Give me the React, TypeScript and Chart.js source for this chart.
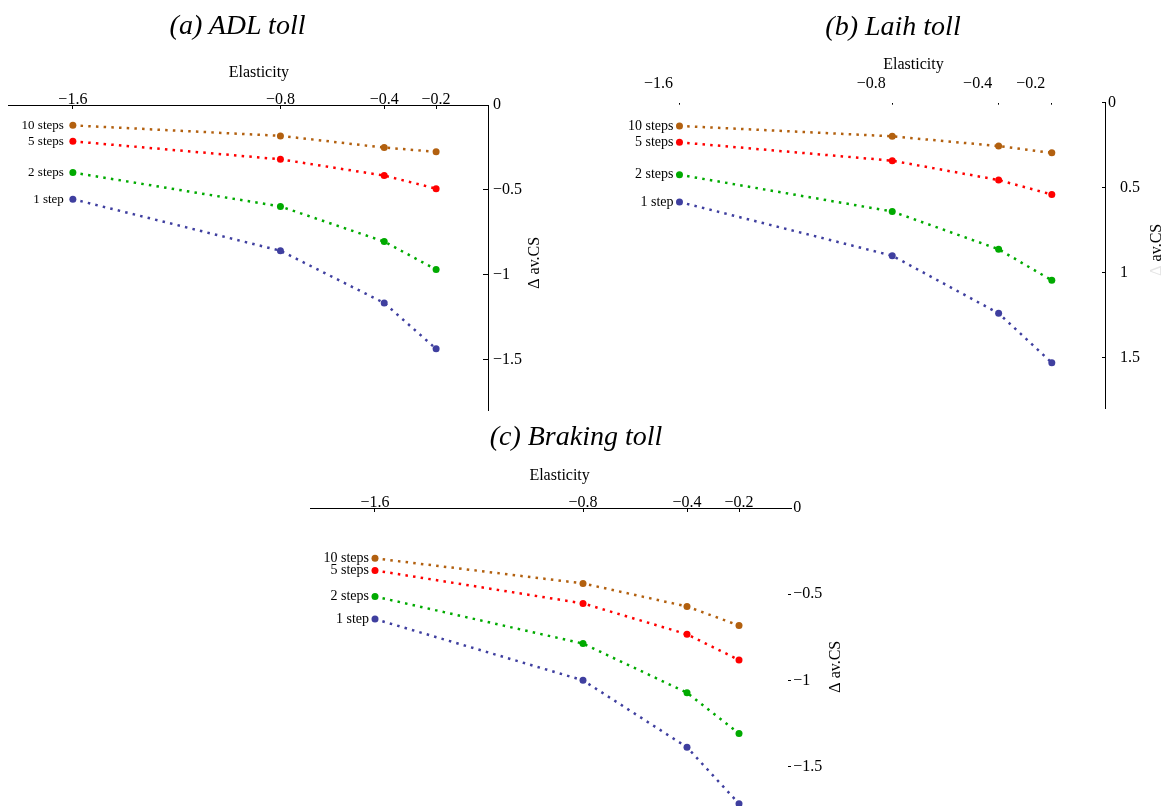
import React, { useEffect, useRef } from 'react';
import { Chart, registerables } from 'chart.js';

Chart.register(...registerables);

// ---------- data ----------
const elasticity = [-1.6, -0.8, -0.4, -0.2];
const xTickLabels = ['−1.6', '−0.8', '−0.4', '−0.2'];
const seriesNames = ['10 steps', '5 steps', '2 steps', '1 step'];
const seriesColors = ['#b2600f', '#ff0000', '#00aa00', '#3f3f9f'];

const adl10 = [-0.12, -0.182, -0.251, -0.276];
const adl5 = [-0.214, -0.32, -0.416, -0.493];
const adl2 = [-0.398, -0.598, -0.805, -0.97];
const adl1 = [-0.555, -0.859, -1.167, -1.437];

const laih10 = [0.137, 0.198, 0.255, 0.295];
const laih5 = [0.233, 0.341, 0.455, 0.54];
const laih2 = [0.424, 0.64, 0.862, 1.045];
const laih1 = [0.584, 0.9, 1.239, 1.53];

const brake10 = [-0.292, -0.437, -0.571, -0.681];
const brake5 = [-0.362, -0.553, -0.732, -0.881];
const brake2 = [-0.513, -0.786, -1.071, -1.307];
const brake1 = [-0.644, -0.999, -1.387, -1.714];

const yTicksNeg = [0, -0.5, -1, -1.5];
const yTickLabelsNeg = ['0', '−0.5', '−1', '−1.5'];
const yTicksPos = [0, 0.5, 1, 1.5];
const yTickLabelsPos = ['0', '0.5', '1', '1.5'];

const panelTitles = ['(a) ADL toll', '(b) Laih toll', '(c) Braking toll'];
const xTitle = 'Elasticity';
const yTitleDelta = 'Δ ';
const yTitleRest = 'av.CS';

// ---------- layout / style ----------
const SERIF = '"Liberation Serif", "Times New Roman", serif';

type PanelCfg = {
  series: number[][];
  yTicks: number[];
  yTickLabels: string[];
  yLabelPad: string;
  yMin: number;
  yMax: number;
  reverse: boolean;
  box: { left: number; top: number; width: number; height: number };
  padLeft: number;
  xAxisH: number;
  yAxisW: number;
  padBottom: number;
  xBorder: boolean;
  xTickLen: number;
  xTickPad: number;
  xLabelOffset: number;
  yBorder: boolean;
  yTickLen: number;
  yTickPad: number;
  xTitleAt: number;
  xTitleGap: number;
  yTitleAt: number;
  yTitleGap: number;
  deltaColor: string;
  labelFont: number;
  labelGap: number;
};

const panels: PanelCfg[] = [
  {
    series: [adl10, adl5, adl2, adl1],
    yTicks: yTicksNeg, yTickLabels: yTickLabelsNeg, yLabelPad: '',
    yMin: -1.8, yMax: 0, reverse: false,
    box: { left: 0, top: 0, width: 560, height: 430 },
    padLeft: 8, xAxisH: 105, yAxisW: 72, padBottom: 19,
    xBorder: true, xTickLen: -4, xTickPad: 0, xLabelOffset: 0,
    yBorder: true, yTickLen: -5, yTickPad: 10,
    xTitleAt: -0.883, xTitleGap: 32,
    yTitleAt: -0.93, yTitleGap: 47, deltaColor: '#000',
    labelFont: 13, labelGap: 9,
  },
  {
    series: [laih10, laih5, laih2, laih1],
    yTicks: yTicksPos, yTickLabels: yTickLabelsPos, yLabelPad: '\u2002 ',
    yMin: 0, yMax: 1.8, reverse: true,
    box: { left: 585, top: 0, width: 585, height: 430 },
    padLeft: 28, xAxisH: 102.7, yAxisW: 65, padBottom: 21.3,
    xBorder: false, xTickLen: -2, xTickPad: 11, xLabelOffset: -21,
    yBorder: true, yTickLen: -3, yTickPad: 6,
    xTitleAt: -0.72, xTitleGap: 37.7,
    yTitleAt: 0.865, yTitleGap: 52, deltaColor: '#e4e4e4',
    labelFont: 14, labelGap: 6,
  },
  {
    series: [brake10, brake5, brake2, brake1],
    yTicks: yTicksNeg, yTickLabels: yTickLabelsNeg, yLabelPad: '',
    yMin: -1.8, yMax: 0, reverse: false,
    box: { left: 290, top: 420, width: 590, height: 420 },
    padLeft: 20, xAxisH: 88, yAxisW: 89, padBottom: 21.5,
    xBorder: true, xTickLen: -4, xTickPad: 0, xLabelOffset: 0,
    yBorder: false, yTickLen: -3, yTickPad: 5.3,
    xTitleAt: -0.89, xTitleGap: 32,
    yTitleAt: -0.92, yTitleGap: 45, deltaColor: '#000',
    labelFont: 14, labelGap: 6,
  },
];

const titleBoxes = [
  { center: 237.5, top: 11 },
  { center: 893, top: 12 },
  { center: 576, top: 421.5 },
];

function makeTextPlugin(p: PanelCfg) {
  return {
    id: 'panelText',
    afterDraw(chart: any) {
      const ctx = chart.ctx;
      const area = chart.chartArea;
      const xs = chart.scales.x;
      const ys = chart.scales.y;
      ctx.save();
      ctx.fillStyle = '#000';
      // x-axis title
      ctx.font = `16px ${SERIF}`;
      ctx.textAlign = 'center';
      ctx.textBaseline = 'middle';
      ctx.fillText(xTitle, xs.getPixelForValue(p.xTitleAt), area.top - p.xTitleGap);
      // y-axis title, reading bottom to top
      ctx.save();
      ctx.translate(area.right + p.yTitleGap, ys.getPixelForValue(p.yTitleAt));
      ctx.rotate(-Math.PI / 2);
      const w1 = ctx.measureText(yTitleDelta).width;
      const w2 = ctx.measureText(yTitleRest).width;
      ctx.textAlign = 'left';
      ctx.fillStyle = p.deltaColor;
      ctx.fillText(yTitleDelta, -(w1 + w2) / 2, 0);
      ctx.fillStyle = '#000';
      ctx.fillText(yTitleRest, -(w1 + w2) / 2 + w1, 0);
      ctx.restore();
      // series labels left of first point
      ctx.font = `${p.labelFont}px ${SERIF}`;
      ctx.textAlign = 'right';
      ctx.textBaseline = 'middle';
      chart.data.datasets.forEach((ds: any, i: number) => {
        const meta = chart.getDatasetMeta(i);
        const pt = meta.data[0];
        if (pt) ctx.fillText(ds.label, pt.x - p.labelGap, pt.y);
      });
      ctx.restore();
    },
  };
}

function PanelChart({ p }: { p: PanelCfg }) {
  const ref = useRef<HTMLCanvasElement | null>(null);
  useEffect(() => {
    if (!ref.current) return;
    const tickFont = { family: SERIF, size: 16 };
    const chart = new Chart(ref.current, {
      type: 'scatter',
      data: {
        datasets: p.series.map((vals, i) => ({
          label: seriesNames[i],
          data: elasticity.map((x, j) => ({ x, y: vals[j] })),
          showLine: true,
          borderColor: seriesColors[i],
          backgroundColor: seriesColors[i],
          borderWidth: 2.5,
          borderDash: [2.5, 5.2],
          pointRadius: 3.5,
          pointBorderWidth: 0,
          pointBackgroundColor: seriesColors[i],
          tension: 0,
          clip: false,
        })),
      },
      options: {
        animation: false,
        responsive: false,
        devicePixelRatio: 1,
        layout: { padding: { left: p.padLeft, top: 0, right: 0, bottom: p.padBottom } },
        plugins: { legend: { display: false }, tooltip: { enabled: false }, title: { display: false } },
        scales: {
          x: {
            type: 'linear',
            position: 'top',
            min: -1.85,
            max: 0,
            afterBuildTicks: (s: any) => { s.ticks = elasticity.map((v) => ({ value: v })); },
            afterFit: (s: any) => { s.height = p.xAxisH; },
            ticks: {
              callback: (v: any) => xTickLabels[elasticity.indexOf(Number(v))] ?? '',
              font: tickFont,
              color: '#000',
              padding: p.xTickPad,
              labelOffset: p.xLabelOffset,
              maxRotation: 0,
              autoSkip: false,
            },
            grid: { display: true, drawOnChartArea: false, drawTicks: true, tickLength: p.xTickLen, color: '#000', tickWidth: 1 },
            border: { display: p.xBorder, color: '#000', width: 1 },
          },
          y: {
            type: 'linear',
            position: 'right',
            min: p.yMin,
            max: p.yMax,
            reverse: p.reverse,
            afterBuildTicks: (s: any) => { s.ticks = p.yTicks.map((v) => ({ value: v })); },
            afterFit: (s: any) => { s.width = p.yAxisW; },
            ticks: {
              callback: (v: any) => {
                const k = p.yTicks.indexOf(Number(v));
                if (k < 0) return '';
                return (k === 0 ? '' : p.yLabelPad) + p.yTickLabels[k];
              },
              font: tickFont,
              color: '#000',
              padding: p.yTickPad,
              autoSkip: false,
            },
            grid: { display: true, drawOnChartArea: false, drawTicks: true, tickLength: p.yTickLen, color: '#000', tickWidth: 1 },
            border: { display: p.yBorder, color: '#000', width: 1 },
          },
        },
      } as any,
      plugins: [makeTextPlugin(p)],
    });
    return () => chart.destroy();
  }, [p]);
  return (
    <canvas
      ref={ref}
      width={p.box.width}
      height={p.box.height}
      style={{ position: 'absolute', left: p.box.left, top: p.box.top, width: p.box.width, height: p.box.height, display: 'block' }}
    />
  );
}

export default function App() {
  return (
    <div style={{ position: 'fixed', left: 0, top: 0, width: 1170, height: 806, overflow: 'hidden', background: '#fff' }}>
      {panels.map((p, i) => (
        <PanelChart key={i} p={p} />
      ))}
      {panelTitles.map((t, i) => (
        <div
          key={'t' + i}
          style={{
            position: 'absolute',
            left: titleBoxes[i].center - 200,
            width: 400,
            top: titleBoxes[i].top,
            textAlign: 'center',
            fontFamily: SERIF,
            fontStyle: 'italic',
            fontSize: 28,
            lineHeight: '28px',
            color: '#000',
            whiteSpace: 'nowrap',
          }}
        >
          {t}
        </div>
      ))}
    </div>
  );
}
